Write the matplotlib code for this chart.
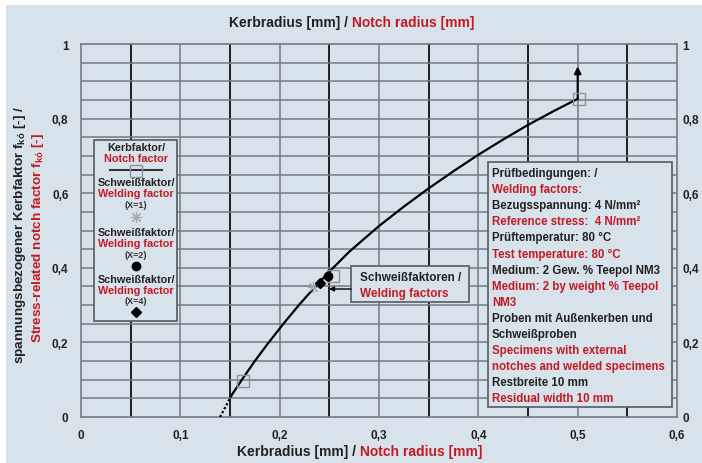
import matplotlib
matplotlib.use("Agg")
import matplotlib.pyplot as plt
from matplotlib.patches import Rectangle

# ── Daten ────────────────────────────────────────────────────────────────
# Kerbfaktor-Kurve
curve_x = [0.152, 0.163, 0.175, 0.189, 0.205, 0.22, 0.236, 0.252, 0.27, 0.30,
           0.325, 0.35, 0.375, 0.40, 0.425, 0.45, 0.475, 0.50]
curve_y = [0.06, 0.104, 0.150, 0.200, 0.254, 0.302, 0.350, 0.395, 0.443, 0.512,
           0.564, 0.613, 0.659, 0.703, 0.744, 0.783, 0.819, 0.853]
# extrapolierter Teil (gepunktet)
dotted_x = [0.140, 0.152]
dotted_y = [0.0, 0.06]
# Pfeil am Ende
arrow_from = (0.50, 0.853)
arrow_to = (0.50, 0.94)

# Kerbfaktor-Messpunkte
notch_x = [0.163, 0.254, 0.501]
notch_y = [0.097, 0.378, 0.853]

# Schweißfaktoren (X=1, X=2, X=4)
weld_x1, weld_y1 = [0.234], [0.348]
weld_x2, weld_y2 = [0.249], [0.378]
weld_x4, weld_y4 = [0.241], [0.359]

x_ticks = [0, 0.1, 0.2, 0.3, 0.4, 0.5, 0.6]
x_labels = ["0", "0,1", "0,2", "0,3", "0,4", "0,5", "0,6"]
y_ticks = [0, 0.2, 0.4, 0.6, 0.8, 1.0]
y_labels = ["0", "0,2", "0,4", "0,6", "0,8", "1"]

info_lines = [
    ("Prüfbedingungen: /", "d"),
    ("Welding factors:", "r"),
    ("Bezugsspannung: 4 N/mm²", "d"),
    ("Reference stress:  4 N/mm²", "r"),
    ("Prüftemperatur: 80 °C", "d"),
    ("Test temperature: 80 °C", "r"),
    ("Medium: 2 Gew. % Teepol NM3", "d"),
    ("Medium: 2 by weight % Teepol", "r"),
    ("NM3", "r"),
    ("Proben mit Außenkerben und", "d"),
    ("Schweißproben", "d"),
    ("Specimens with external", "r"),
    ("notches and welded specimens", "r"),
    ("Restbreite 10 mm", "d"),
    ("Residual width 10 mm", "r"),
]

BG = "#d8e2ea"
DARK = "#222222"
RED = "#c21a23"
GRID_THIN = "#737b83"
GRID_THICK = "#1e1e1e"
FONT = ["Liberation Sans Narrow", "Liberation Sans", "DejaVu Sans"]

plt.rcParams["font.family"] = FONT
plt.rcParams["font.weight"] = "bold"
plt.rcParams["mathtext.default"] = "regular"

W, H = 702, 464
fig = plt.figure(figsize=(W / 100, H / 100), dpi=100)
fig.patch.set_facecolor("white")
fig.patches.append(Rectangle((6 / W, 0), 1, (H - 6) / H, transform=fig.transFigure,
                             facecolor=BG, edgecolor="none", zorder=-10))

ax = fig.add_axes([81 / W, (H - 418) / H, (677 - 81) / W, (418 - 45) / H])
ax.set_facecolor(BG)
ax.set_xlim(0, 0.6)
ax.set_ylim(0, 1)

# Gitter
for i in range(1, 12):
    xv = i * 0.05
    thick = i % 2 == 1
    ax.axvline(xv, color=GRID_THICK if thick else GRID_THIN,
               lw=1.4 if thick else 1.1, zorder=1)
for i in range(1, 20):
    ax.axhline(i * 0.05, color=GRID_THIN, lw=1.1, zorder=1)
for s in ax.spines.values():
    s.set_color(GRID_THIN)
    s.set_linewidth(1.2)

ax.set_xticks(x_ticks, x_labels)
ax.set_yticks(y_ticks, y_labels)
ax.tick_params(length=0, labelsize=8.5, colors=DARK, pad=9)

# rechte Achse: gleiche Beschriftung, etwas näher am Rahmen
ax_r = ax.twinx()
ax_r.set_ylim(0, 1)
ax_r.set_yticks(y_ticks, y_labels)
ax_r.tick_params(length=0, labelsize=8.5, colors=DARK, pad=4)
for s in ax_r.spines.values():
    s.set_visible(False)

# Kurve
ax.plot(curve_x, curve_y, color="black", lw=1.6, zorder=4)
ax.plot(dotted_x, dotted_y, color="black", lw=1.6, ls=(0, (1, 1)), zorder=4)
ax.annotate("", xy=arrow_to, xytext=arrow_from, zorder=5,
            arrowprops=dict(arrowstyle="-|>", color="black", lw=1.5,
                            mutation_scale=10, shrinkA=0, shrinkB=0))
ax.plot(notch_x, notch_y, ls="none", marker="s", ms=8, mfc="none",
        mec="#8c939a", mew=1.0, zorder=5)

ax.plot(weld_x1, weld_y1, ls="none", marker=(8, 2, 0), ms=8, color="#a3a9af",
        mew=0.8, zorder=6)
ax.plot(weld_x4, weld_y4, ls="none", marker="D", ms=5.5, color="black", zorder=6)
ax.plot(weld_x2, weld_y2, ls="none", marker="o", ms=6, color="black", zorder=6)


def dy(py):
    return (418 - py) / 373


def dx(px):
    return (px - 81) / (596 / 0.6)


# Legende
ax.add_patch(Rectangle((dx(94), dy(322)), dx(177) - dx(94), dy(141) - dy(322),
                       facecolor=BG, edgecolor="#555b61", lw=1.2, zorder=7))
cx = dx(136)
legend_rows = [
    (148, "Kerbfaktor/", DARK, 7.8), (159, "Notch factor", RED, 7.8),
    (183, "Schweißfaktor/", DARK, 7.8), (194, "Welding factor", RED, 7.8),
    (206, "(X=1)", "#333333", 6.5),
    (233, "Schweißfaktor/", DARK, 7.8), (244, "Welding factor", RED, 7.8),
    (256, "(X=2)", "#333333", 6.5),
    (280, "Schweißfaktor/", DARK, 7.8), (291, "Welding factor", RED, 7.8),
    (302, "(X=4)", "#333333", 6.5),
]
for py, txt, col, fs in legend_rows:
    ax.text(cx, dy(py), txt, color=col, fontsize=fs, ha="center", va="center", zorder=8)
ax.plot([dx(110), dx(162)], [dy(171), dy(171)], color="#333333", lw=1.5, zorder=8)
ax.plot([cx], [dy(172)], marker="s", ms=8, mfc="none", mec="#8c939a", mew=1.0, zorder=9)
ax.plot([cx], [dy(218)], marker=(8, 2, 0), ms=8, color="#a3a9af", mew=0.8, zorder=8)
ax.plot([cx], [dy(267)], marker="o", ms=6, color="black", zorder=8)
ax.plot([cx], [dy(313)], marker="D", ms=5.5, color="black", zorder=8)

# Prüfbedingungen
ax.add_patch(Rectangle((dx(488), dy(408)), dx(672) - dx(488), dy(163) - dy(408),
                       facecolor=BG, edgecolor="#555b61", lw=1.2, zorder=7))
for i, (txt, c) in enumerate(info_lines):
    ax.text(dx(492), dy(174 + 16.1 * i), txt, color=DARK if c == "d" else RED,
            fontsize=8.3, ha="left", va="center", zorder=8)

# Schweißfaktoren-Hinweis
ax.add_patch(Rectangle((dx(351), dy(303)), dx(469) - dx(351), dy(267) - dy(303),
                       facecolor=BG, edgecolor="#555b61", lw=1.2, zorder=7))
ax.text(dx(360), dy(278), "Schweißfaktoren /", color=DARK, fontsize=8.5,
        ha="left", va="center", zorder=8)
ax.text(dx(360), dy(294), "Welding factors", color=RED, fontsize=8.5,
        ha="left", va="center", zorder=8)
ax.annotate("", xy=(dx(329), dy(290)), xytext=(dx(351), dy(290)), zorder=8,
            arrowprops=dict(arrowstyle="-|>", color="black", lw=1.0,
                            mutation_scale=7, shrinkA=0, shrinkB=0))

# Achsentitel (zweifarbig)
renderer = fig.canvas.get_renderer()


def two_tone(cx_px, cy_px, dark, red, fs):
    t1 = fig.text(0, 1 - cy_px / H, dark, color=DARK, fontsize=fs,
                  ha="left", va="center")
    t2 = fig.text(0, 1 - cy_px / H, red, color=RED, fontsize=fs,
                  ha="left", va="center")
    w1 = t1.get_window_extent(renderer).width
    w2 = t2.get_window_extent(renderer).width
    x0 = cx_px - (w1 + w2) / 2
    t1.set_x(x0 / W)
    t2.set_x((x0 + w1) / W)


two_tone(352, 23, "Kerbradius [mm] / ", "Notch radius [mm]", 10)
two_tone(360, 452, "Kerbradius [mm] / ", "Notch radius [mm]", 10)

fig.text(20 / W, 1 - 235 / H, r"spannungsbezogener Kerbfaktor f$_{kó}$ [-] /",
         color=DARK, fontsize=9.7, rotation=90, ha="center", va="center")
fig.text(38 / W, 1 - 238 / H, r"Stress-related notch factor f$_{kó}$ [-]",
         color=RED, fontsize=9.7, rotation=90, ha="center", va="center")

fig.savefig("out.png", dpi=100, facecolor=fig.get_facecolor())
